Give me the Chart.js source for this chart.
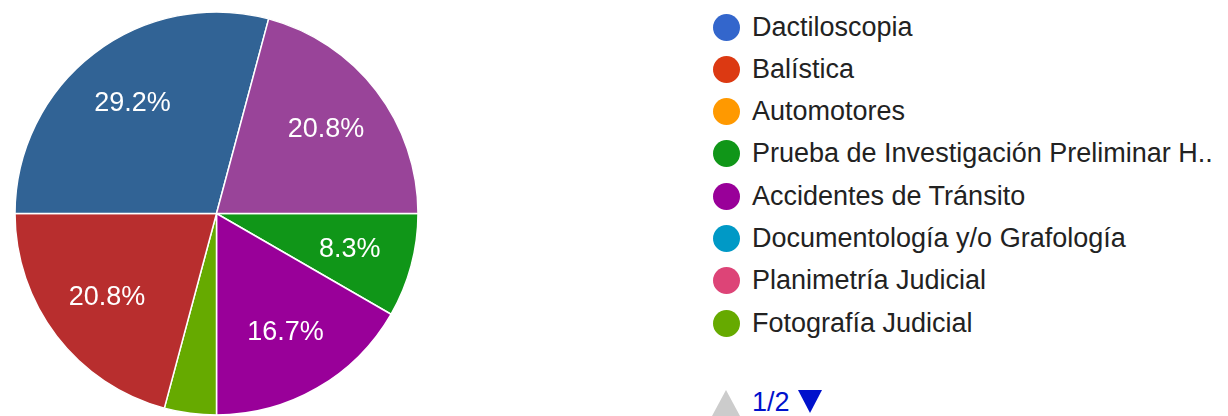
<!DOCTYPE html>
<html>
<head>
<meta charset="utf-8">
<script src="https://cdn.jsdelivr.net/npm/chart.js@4"></script>
<style>
  body { margin: 0; width: 1228px; height: 416px; overflow: hidden; background: #fff;
         font-family: "Liberation Sans", Arial, sans-serif; }
  #pie { position: absolute; left: 0; top: 0; }
  .item { position: absolute; left: 713px; height: 27px; line-height: 27px; font-size: 27px;
          color: #222; white-space: nowrap; }
  .dot { position: absolute; left: 0; top: 0; width: 27px; height: 27px; border-radius: 50%; }
  .item span { position: absolute; left: 39px; top: 0; }
  .up { position: absolute; left: 712px; top: 390px; width: 0; height: 0;
        border-left: 14px solid transparent; border-right: 14px solid transparent;
        border-bottom: 26px solid #ccc; }
  .page { position: absolute; left: 752px; top: 389px; height: 27px; line-height: 27px;
          font-size: 27px; color: #0011cc; }
  .down { position: absolute; left: 798px; top: 390px; width: 0; height: 0;
          border-left: 12.5px solid transparent; border-right: 12.5px solid transparent;
          border-top: 23px solid #0011cc; }
</style>
</head>
<body>
<canvas id="pie" width="433" height="427"></canvas>
<div id="legend"></div>
<div class="up"></div>
<div class="page">1/2</div>
<div class="down"></div>
<script>
// answers (the last three only show on legend page 2)
const labels = ['Dactiloscopia', 'Balística', 'Automotores', 'Prueba de Investigación Preliminar H..',
  'Accidentes de Tránsito', 'Documentología y/o Grafología', 'Planimetría Judicial',
  'Fotografía Judicial', 'Opción 9', 'Opción 10', 'Opción 11'];
const counts = [0, 0, 0, 2, 4, 0, 0, 1, 5, 7, 5];
const colors = ['#3366cc', '#dc3912', '#ff9900', '#109618', '#990099', '#0099c6',
  '#dd4477', '#66aa00', '#b82e2e', '#316395', '#994499'];
const perPage = 8;

// percent text inside the slices
const sliceLabels = {
  id: 'sliceLabels',
  afterDatasetsDraw(chart) {
    const ctx = chart.ctx;
    const meta = chart.getDatasetMeta(0);
    const total = counts.reduce((a, b) => a + b, 0);
    ctx.save();
    ctx.font = '27px "Liberation Sans", Arial, sans-serif';
    ctx.fillStyle = '#fff';
    ctx.textAlign = 'center';
    ctx.textBaseline = 'middle';
    meta.data.forEach((arc, i) => {
      const pct = counts[i] / total * 100;
      if (pct < 5) return;
      const p = arc.getProps(['x', 'y', 'startAngle', 'endAngle', 'outerRadius'], true);
      const mid = (p.startAngle + p.endAngle) / 2;
      const r = p.outerRadius * 0.685;
      ctx.fillText(pct.toFixed(1) + '%', p.x + Math.cos(mid) * r, p.y + Math.sin(mid) * r);
    });
    ctx.restore();
  }
};

var ctx = document.getElementById('pie').getContext('2d');
var chart = new Chart(ctx, {
  type: 'pie',
  data: {
    labels: labels,
    datasets: [{
      data: counts,
      backgroundColor: colors,
      borderColor: '#fff',
      borderWidth: 1.5
    }]
  },
  options: {
    responsive: false,
    animation: false,
    events: [],
    rotation: 90,
    radius: 201.5,
    plugins: {
      legend: { display: false },
      tooltip: { enabled: false }
    }
  },
  plugins: [sliceLabels]
});

// legend, first page
const legend = document.getElementById('legend');
labels.slice(0, perPage).forEach((name, i) => {
  const row = document.createElement('div');
  row.className = 'item';
  row.style.top = (27 + 42.3 * i - 13.5) + 'px';
  row.innerHTML = '<div class="dot" style="background:' + colors[i] + '"></div><span></span>';
  row.querySelector('span').textContent = name;
  legend.appendChild(row);
});
</script>
</body>
</html>
